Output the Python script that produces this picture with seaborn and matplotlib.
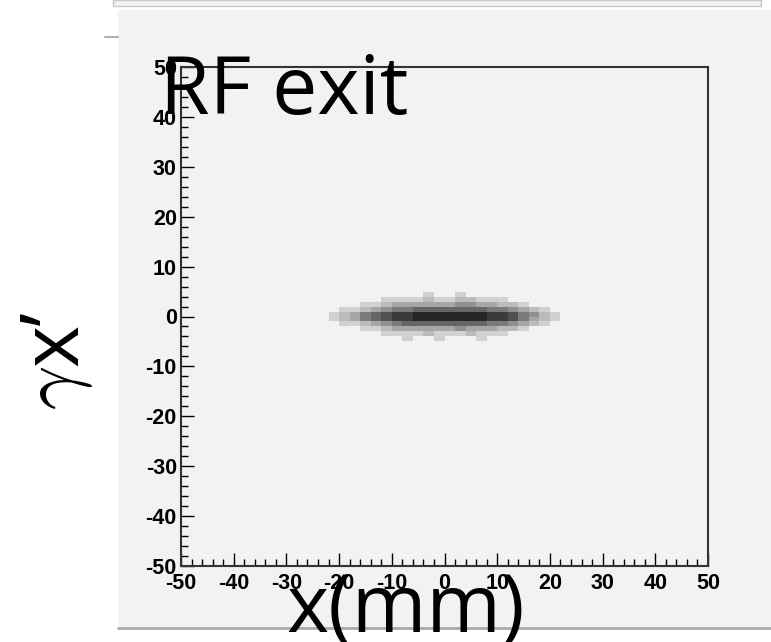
import numpy as np
import pandas as pd
import matplotlib
matplotlib.use("Agg")
import matplotlib.pyplot as plt
import seaborn as sns
from matplotlib.patches import Rectangle
from matplotlib.ticker import MultipleLocator

# particle density (x in mm, y = gamma*x')
x_centers = [-21, -19, -17, -15, -13, -11, -9, -7, -5, -3, -1,
             1, 3, 5, 7, 9, 11, 13, 15, 17, 19, 21]
y_centers = [4.5, 3.5, 2.5, 1.5, 0.5, -0.5, -1.5, -2.5, -3.5, -4.5]
row_p45 = [0, 0, 0, 0, 0, 0, 0, 0, 0, 1, 0, 0, 1, 0, 0, 0, 0, 0, 0, 0, 0, 0]
row_p35 = [0, 0, 0, 0, 0, 1, 1, 1, 1, 2, 1, 1, 2, 2, 1, 1, 1, 0, 0, 0, 0, 0]
row_p25 = [0, 0, 0, 1, 1, 2, 3, 3, 3, 3, 3, 3, 4, 4, 3, 3, 2, 2, 1, 0, 0, 0]
row_p15 = [0, 1, 1, 2, 3, 4, 5, 5, 6, 6, 6, 6, 6, 6, 6, 5, 5, 4, 3, 2, 1, 0]
row_p05 = [1, 2, 3, 5, 6, 7, 8, 8, 9, 9, 9, 9, 9, 9, 9, 8, 8, 7, 5, 4, 2, 1]
row_m05 = [1, 2, 3, 5, 6, 7, 8, 8, 9, 9, 9, 9, 9, 9, 9, 8, 8, 7, 5, 3, 2, 1]
row_m15 = [0, 1, 1, 2, 3, 4, 5, 6, 6, 6, 6, 6, 6, 6, 6, 5, 5, 4, 3, 2, 1, 0]
row_m25 = [0, 0, 0, 1, 1, 2, 3, 3, 3, 3, 3, 3, 4, 3, 3, 3, 2, 2, 1, 0, 0, 0]
row_m35 = [0, 0, 0, 0, 0, 1, 1, 1, 1, 2, 1, 1, 1, 2, 1, 1, 1, 0, 0, 0, 0, 0]
row_m45 = [0, 0, 0, 0, 0, 0, 0, 1, 0, 0, 1, 0, 0, 0, 1, 0, 0, 0, 0, 0, 0, 0]
rows = [row_p45, row_p35, row_p25, row_p15, row_p05,
        row_m05, row_m15, row_m25, row_m35, row_m45]

tick_vals = [-50, -40, -30, -20, -10, 0, 10, 20, 30, 40, 50]

recs = []
for yc, row in zip(y_centers, rows):
    for xc, n in zip(x_centers, row):
        if n > 0:
            recs.append({"x": xc, "y": yc, "n": n})
df = pd.DataFrame(recs)

sns.set_style("white")
plt.rcParams["font.family"] = ["Liberation Sans", "DejaVu Sans"]
plt.rcParams["text.color"] = "black"
plt.rcParams["xtick.color"] = "black"
plt.rcParams["ytick.color"] = "black"
plt.rcParams["axes.unicode_minus"] = False
plt.rcParams["mathtext.fontset"] = "cm"

fig = plt.figure(figsize=(7.71, 6.42), dpi=100)
fig.patch.set_facecolor("white")

panel = "#f2f2f2"
# slide panels behind the plot
fig.patches.append(Rectangle((113 / 771, 1 - 6 / 642), 648 / 771, 6 / 642,
                             transform=fig.transFigure, facecolor=panel,
                             edgecolor="#c8c8c8", lw=1, zorder=-2))
fig.patches.append(Rectangle((118 / 771, 1 - 628 / 642), 653 / 771, 618 / 642,
                             transform=fig.transFigure, facecolor=panel,
                             edgecolor="none", zorder=-2))
fig.lines.append(plt.Line2D([118 / 771, 1], [1 - 628 / 642] * 2,
                            transform=fig.transFigure, color="#a8a8a8", lw=2,
                            zorder=-1))
fig.lines.append(plt.Line2D([105 / 771, 118 / 771], [1 - 37 / 642] * 2,
                            transform=fig.transFigure, color="#b0b0b0", lw=1.5,
                            zorder=-1))

ax = fig.add_axes([181 / 771, 1 - 566 / 642, 527 / 771, 499 / 642])
ax.set_zorder(1)
ax.set_facecolor(panel)

dots = sns.blend_palette(["#e6e6e6", "#101010"], as_cmap=True)
sns.histplot(data=df, x="x", y="y", weights="n", binwidth=(2, 1),
             binrange=((-22, 22), (-5, 5)), cmap=dots, vmin=0, vmax=10,
             ax=ax)

ax.set_xlim(-50, 50)
ax.set_ylim(-50, 50)
ax.set_xticks(tick_vals)
ax.set_yticks(tick_vals)
ax.xaxis.set_minor_locator(MultipleLocator(2))
ax.yaxis.set_minor_locator(MultipleLocator(2))
ax.tick_params(which="major", direction="in", length=9.5, width=1, color="black",
               labelsize=15.5, bottom=True, left=True, top=False, right=False)
ax.tick_params(which="minor", direction="in", length=5, width=1, color="black",
               bottom=True, left=True, top=False, right=False)
ax.tick_params(axis="x", pad=5)
ax.tick_params(axis="y", pad=3)
for lab in ax.get_xticklabels() + ax.get_yticklabels():
    lab.set_fontweight("bold")
ax.set_xlabel("")
ax.set_ylabel("")
for sp in ax.spines.values():
    sp.set_visible(True)
    sp.set_color("#333333")
    sp.set_linewidth(1.5)

big = ["Open Sans", "DejaVu Sans"]
fig.text(160 / 771, 1 - 114 / 642, "RF exit", fontsize=58, family=big,
         ha="left", va="baseline", zorder=5)
fig.text(406 / 771, 1 - 632 / 642, "x(mm)", fontsize=58, family=big,
         ha="center", va="baseline", zorder=5)
# axis label gamma x' drawn bottom-to-top
fig.text(76 / 771, 1 - 410 / 642, r"$\gamma$", fontsize=56, rotation=90,
         rotation_mode="anchor", ha="left", va="baseline", zorder=5)
fig.text(77 / 771, 1 - 366 / 642, "x’", fontsize=58, rotation=90,
         rotation_mode="anchor", family=big, ha="left", va="baseline", zorder=5)

fig.savefig("out.png", dpi=100)
